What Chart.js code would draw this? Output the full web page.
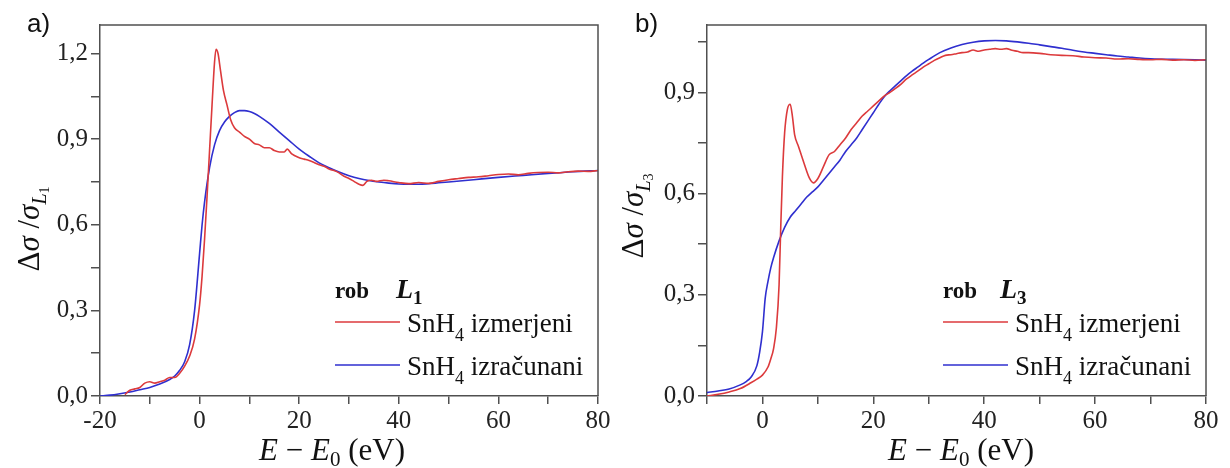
<!DOCTYPE html>
<html>
<head>
<meta charset="utf-8">
<script src="https://cdn.jsdelivr.net/npm/chart.js@4/dist/chart.umd.min.js"></script>
<style>
  html, body { margin: 0; padding: 0; background: #fff; }
  #wrap { position: relative; width: 1230px; height: 468px; }
  canvas { position: absolute; top: 0; }
  #cL1 { left: 0; }
  #cL3 { left: 615px; }
</style>
</head>
<body>
<div id="wrap">
  <canvas id="cL1" width="615" height="468"></canvas>
  <canvas id="cL3" width="615" height="468"></canvas>
</div>
<script>
// ---- data: panel a) L1 edge ----
var l1MeasE = [-15, -14, -13, -12, -11, -10, -9, -8, -7, -6, -5, -4, -3, -2, -1, 0, 0.5, 1, 1.5, 2, 2.5, 3, 3.3, 3.7, 4.2, 4.8, 5.5, 6.2, 7, 8, 9, 10, 11, 12, 13, 14, 15, 16, 17, 17.6, 18.5, 20, 21, 22, 23, 24, 25, 26, 27, 28, 29, 30, 31, 32, 32.8, 33.6, 34.5, 35.5, 37, 38, 40, 42, 44, 46, 48, 50, 52, 54, 56, 58, 60, 62, 64, 66, 68, 70, 72, 74, 76, 78, 80];
var l1MeasY = [0.005, 0.02, 0.025, 0.03, 0.045, 0.05, 0.045, 0.05, 0.055, 0.065, 0.065, 0.08, 0.105, 0.14, 0.2, 0.32, 0.42, 0.55, 0.7, 0.86, 1.02, 1.17, 1.215, 1.2, 1.14, 1.07, 1.02, 0.97, 0.94, 0.925, 0.91, 0.9, 0.885, 0.88, 0.87, 0.87, 0.86, 0.855, 0.855, 0.865, 0.848, 0.835, 0.83, 0.825, 0.818, 0.81, 0.805, 0.795, 0.79, 0.782, 0.77, 0.762, 0.752, 0.742, 0.738, 0.752, 0.756, 0.752, 0.756, 0.754, 0.748, 0.744, 0.748, 0.745, 0.752, 0.758, 0.762, 0.766, 0.768, 0.772, 0.776, 0.778, 0.775, 0.78, 0.783, 0.784, 0.782, 0.786, 0.788, 0.787, 0.79];
var l1CalcE = [-20, -18, -16, -14, -12, -10, -8, -6, -5, -4, -3, -2, -1, 0, 0.5, 1, 2, 3, 4, 5, 6, 7, 8, 9, 10, 11, 12, 14, 16, 18, 20, 22, 24, 26, 28, 30, 32, 34, 36, 38, 40, 42, 44, 46, 48, 50, 55, 60, 65, 70, 75, 80];
var l1CalcY = [0.0, 0.003, 0.008, 0.014, 0.022, 0.03, 0.042, 0.058, 0.07, 0.09, 0.12, 0.18, 0.3, 0.5, 0.6, 0.68, 0.8, 0.88, 0.93, 0.96, 0.98, 0.993, 1.0, 1.0, 0.997, 0.99, 0.98, 0.955, 0.925, 0.895, 0.865, 0.84, 0.817, 0.8, 0.785, 0.772, 0.762, 0.755, 0.75, 0.746, 0.743, 0.742, 0.742, 0.744, 0.747, 0.75, 0.758, 0.766, 0.773, 0.78, 0.786, 0.79];

// ---- data: panel b) L3 edge ----
var l3MeasE = [-10, -8, -6, -4, -2, -1, 0, 1, 1.5, 2, 2.5, 3, 3.3, 3.6, 4, 4.5, 5, 5.4, 5.8, 6.5, 7.5, 8.5, 9.2, 10, 11, 12, 13, 14, 15, 16, 17, 18, 19, 20, 21, 22, 23, 24, 25, 26, 27, 28, 29, 30, 31, 32, 33, 34, 35, 36, 37, 38, 39, 40, 41, 42, 43, 44, 45, 46, 47, 48, 50, 52, 54, 56, 58, 60, 62, 64, 66, 68, 70, 72, 74, 76, 78, 80];
var l3MeasY = [0.0, 0.005, 0.012, 0.022, 0.04, 0.05, 0.062, 0.086, 0.11, 0.14, 0.2, 0.33, 0.5, 0.65, 0.78, 0.85, 0.865, 0.83, 0.775, 0.74, 0.69, 0.645, 0.632, 0.645, 0.68, 0.715, 0.725, 0.745, 0.765, 0.79, 0.81, 0.83, 0.845, 0.86, 0.875, 0.89, 0.9, 0.912, 0.925, 0.94, 0.952, 0.963, 0.975, 0.985, 0.995, 1.003, 1.01, 1.012, 1.015, 1.018, 1.02, 1.026, 1.022, 1.026, 1.028, 1.03, 1.028, 1.03, 1.025, 1.022, 1.018, 1.018, 1.016, 1.012, 1.01, 1.009, 1.005, 1.003, 1.002, 0.999, 1.0, 0.998, 0.997, 0.998, 0.996, 0.997, 0.995, 0.997];
var l3CalcE = [-10, -8, -6, -4, -3, -2, -1, -0.5, 0, 0.5, 1, 1.5, 2, 3, 4, 5, 6, 7, 8, 9, 10, 11, 12, 13, 14, 15, 16, 17, 18, 19, 20, 21, 22, 23, 24, 25, 26, 27, 28, 29, 30, 32, 34, 36, 38, 40, 42, 44, 46, 48, 50, 52, 54, 56, 58, 60, 62, 64, 66, 68, 70, 74, 78, 80];
var l3CalcY = [0.01, 0.015, 0.021, 0.033, 0.042, 0.057, 0.09, 0.13, 0.19, 0.29, 0.34, 0.38, 0.41, 0.46, 0.5, 0.53, 0.55, 0.57, 0.59, 0.605, 0.62, 0.64, 0.66, 0.68, 0.7, 0.725, 0.745, 0.765, 0.79, 0.815, 0.84, 0.865, 0.888, 0.905, 0.92, 0.935, 0.95, 0.963, 0.975, 0.987, 0.998, 1.018, 1.032, 1.042, 1.049, 1.053, 1.054, 1.053, 1.05, 1.046, 1.041, 1.036, 1.031, 1.025, 1.02, 1.016, 1.012, 1.008, 1.005, 1.002, 1.0, 0.998, 0.997, 0.996];

// ---- ticks ----
var xMajorL1 = [-20, 0, 20, 40, 60, 80];
var xMinorL1 = [-10, 10, 30, 50, 70];
var yMajorL1 = [0, 0.3, 0.6, 0.9, 1.2];
var yMinorL1 = [0.15, 0.45, 0.75, 1.05];
var xMajorL3 = [0, 20, 40, 60, 80];
var xMinorL3 = [-10, 10, 30, 50, 70];
var yMajorL3 = [0, 0.3, 0.6, 0.9];
var yMinorL3 = [0.15, 0.45, 0.75, 1.05];

var seriesNames = ['izmerjeni', 'izračunani'];
var RED = '#dc3a3c';
var BLUE = '#2f2fcf';
var AXIS = '#505050';
var SERIF = '"Liberation Serif", "Times New Roman", serif';

function pts(xs, ys) {
  return xs.map(function(x, i) { return { x: x, y: ys[i] }; });
}

function fmt(v) {
  return v.toFixed(1).replace('.', ',');
}

// draws a sequence of text pieces, each with own font and vertical shift
function drawRuns(ctx, runs, x, y, align) {
  var total = 0;
  runs.forEach(function(r) { ctx.font = r.font; total += ctx.measureText(r.t).width; });
  var cx = align === 'center' ? x - total / 2 : x;
  runs.forEach(function(r) {
    ctx.font = r.font;
    ctx.fillText(r.t, cx, y + (r.dy || 0));
    cx += ctx.measureText(r.t).width;
  });
}

function makeChart(id, o) {
  var ctx = document.getElementById(id);

  var decor = {
    id: 'decor',
    afterDraw: function(chart) {
      var c = chart.ctx, a = chart.chartArea;
      c.save();
      // frame top and right
      c.strokeStyle = AXIS;
      c.lineWidth = 1.5;
      c.beginPath();
      c.moveTo(a.left, a.top);
      c.lineTo(a.right, a.top);
      c.lineTo(a.right, a.bottom);
      c.stroke();

      c.fillStyle = '#111';
      c.textBaseline = 'alphabetic';
      c.textAlign = 'left';

      // panel letter
      c.font = '26px "Liberation Sans", Arial, sans-serif';
      c.fillText(o.panel, o.panelX, 32);

      // x title
      drawRuns(c, [
        { t: 'E', font: 'italic 31px ' + SERIF },
        { t: ' − ', font: '31px ' + SERIF },
        { t: 'E', font: 'italic 31px ' + SERIF },
        { t: '0', font: '21px ' + SERIF, dy: 6 },
        { t: ' (eV)', font: '31px ' + SERIF }
      ], o.xTitleX, 460, 'center');

      // y title, rotated
      c.save();
      c.translate(o.yTitleX, o.yTitleY);
      c.rotate(-Math.PI / 2);
      drawRuns(c, [
        { t: 'Δ', font: '31px ' + SERIF },
        { t: 'σ', font: 'italic 31px ' + SERIF },
        { t: ' /', font: '31px ' + SERIF },
        { t: 'σ', font: 'italic 31px ' + SERIF },
        { t: 'L', font: 'italic 20px ' + SERIF, dy: 7 },
        { t: o.edge, font: '14px ' + SERIF, dy: 10 }
      ], 0, 0, 'center');
      c.restore();

      // legend
      var lx = o.legX;
      c.font = 'bold 23px ' + SERIF;
      c.fillText('rob', lx, 298);
      drawRuns(c, [
        { t: 'L', font: 'bold italic 28px ' + SERIF },
        { t: o.edge, font: 'bold 19px ' + SERIF, dy: 6 }
      ], o.legLX, 298);

      [RED, BLUE].forEach(function(col, i) {
        var ly = i === 0 ? 322 : 365;
        c.strokeStyle = col;
        c.lineWidth = 1.6;
        c.beginPath();
        c.moveTo(lx, ly);
        c.lineTo(lx + 65, ly);
        c.stroke();
        drawRuns(c, [
          { t: 'SnH', font: '27px ' + SERIF },
          { t: '4', font: '18px ' + SERIF, dy: 9 },
          { t: ' ' + seriesNames[i], font: '27px ' + SERIF }
        ], lx + 72, ly + 10);
      });
      c.restore();
    }
  };

  function tickCfg(majors, minors) {
    return function(scale) {
      scale.ticks = majors.concat(minors).sort(function(a, b) { return a - b; })
        .map(function(v) { return { value: v }; });
    };
  }

  return new Chart(ctx, {
    type: 'line',
    data: {
      datasets: [
        {
          label: 'SnH4 ' + seriesNames[0],
          data: pts(o.measE, o.measY),
          borderColor: RED,
          borderWidth: 1.6,
          pointRadius: 0,
          cubicInterpolationMode: 'monotone',
          fill: false
        },
        {
          label: 'SnH4 ' + seriesNames[1],
          data: pts(o.calcE, o.calcY),
          borderColor: BLUE,
          borderWidth: 1.6,
          pointRadius: 0,
          cubicInterpolationMode: 'monotone',
          fill: false
        }
      ]
    },
    options: {
      responsive: false,
      animation: false,
      devicePixelRatio: 1,
      layout: { padding: { top: 25, right: o.padRight, bottom: 0, left: 0 } },
      plugins: { legend: { display: false }, tooltip: { enabled: false } },
      scales: {
        x: {
          type: 'linear',
          min: o.xMin,
          max: 80,
          afterBuildTicks: tickCfg(o.xMajor, o.xMinor),
          afterFit: function(s) { s.height = 72; },
          ticks: {
            autoSkip: false,
            maxRotation: 0,
            padding: 2,
            color: '#222',
            font: { family: SERIF, size: 25 },
            callback: function(v) { return o.xMajor.indexOf(v) >= 0 ? String(v) : ''; }
          },
          grid: { drawOnChartArea: false, tickLength: 8, color: AXIS, lineWidth: 1.5 },
          border: { color: AXIS, width: 1.5 }
        },
        y: {
          min: 0,
          max: o.yMax,
          afterBuildTicks: tickCfg(o.yMajor, o.yMinor),
          afterFit: function(s) { s.width = o.yWidth; },
          ticks: {
            autoSkip: false,
            padding: 3,
            color: '#222',
            font: { family: SERIF, size: 25 },
            callback: function(v) { return o.yMajor.indexOf(v) >= 0 ? fmt(v) : ''; }
          },
          grid: { drawOnChartArea: false, tickLength: 9, color: AXIS, lineWidth: 1.5 },
          border: { color: AXIS, width: 1.5 }
        }
      }
    },
    plugins: [decor]
  });
}

makeChart('cL1', {
  measE: l1MeasE, measY: l1MeasY, calcE: l1CalcE, calcY: l1CalcY,
  xMin: -20, yMax: 1.3,
  xMajor: xMajorL1, xMinor: xMinorL1, yMajor: yMajorL1, yMinor: yMinorL1,
  yWidth: 100, padRight: 17,
  panel: 'a)', panelX: 27, edge: '1',
  xTitleX: 332, yTitleX: 39, yTitleY: 229,
  legX: 335, legLX: 396
});

makeChart('cL3', {
  measE: l3MeasE, measY: l3MeasY, calcE: l3CalcE, calcY: l3CalcY,
  xMin: -10, yMax: 1.1,
  xMajor: xMajorL3, xMinor: xMinorL3, yMajor: yMajorL3, yMinor: yMinorL3,
  yWidth: 92, padRight: 24,
  panel: 'b)', panelX: 20, edge: '3',
  xTitleX: 346, yTitleX: 28, yTitleY: 216,
  legX: 328, legLX: 385
});
</script>
</body>
</html>
